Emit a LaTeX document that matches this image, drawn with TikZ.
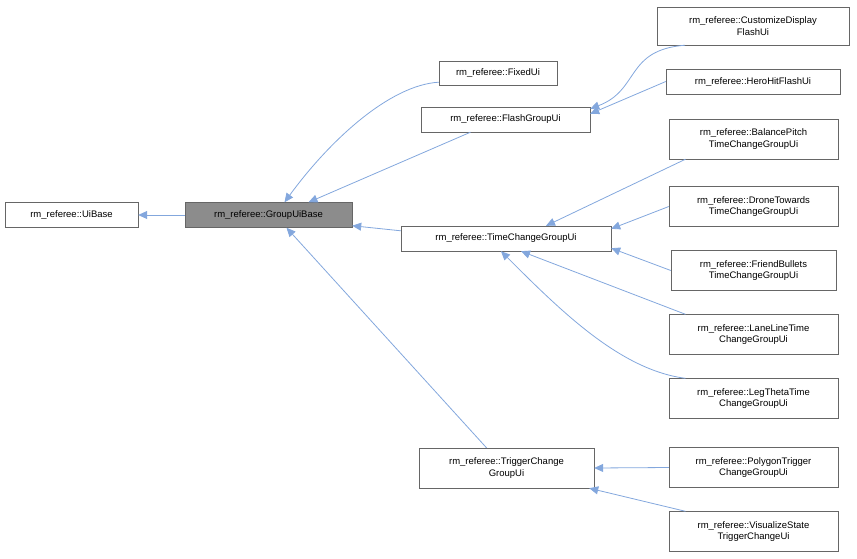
\documentclass[tikz,border=0pt]{standalone}
\usepackage{fontspec}
\setmainfont{Liberation Sans}
\usetikzlibrary{arrows.meta}
\tikzset{
  cls/.style={draw=black!60, fill=white, align=center, inner sep=2pt,
    font=\fontsize{9.5}{11.5}\selectfont, minimum height=25pt},
  edge/.style={draw=cyan!50!blue!50, line width=0.8pt,
    -{Triangle[length=9pt,width=8pt,fill=cyan!50!blue!50]}}
}
\begin{document}
\begin{tikzpicture}[x=1pt, y=-1pt]
\useasboundingbox (0,0) rectangle (857,558);
\node[cls, minimum width=133pt] (UiBase) at (71.5,215) {rm\_referee::UiBase};
\node[cls, minimum width=167pt, fill=black!45] (GroupUiBase) at (268.5,215) {rm\_referee::GroupUiBase};
\node[cls, minimum width=118pt, minimum height=24pt] (FixedUi) at (498,73) {rm\_referee::FixedUi};
\node[cls, minimum width=169pt] (FlashGroupUi) at (505.5,119.5) {rm\_referee::FlashGroupUi};
\node[cls, minimum width=210pt] (TimeChangeGroupUi) at (506,238.5) {rm\_referee::TimeChangeGroupUi};
\node[cls, minimum width=175pt, minimum height=40pt] (TriggerChangeGroupUi) at (506.5,468) {rm\_referee::TriggerChange\\GroupUi};
\node[cls, minimum width=192pt, minimum height=38pt] (CustomizeDisplayFlashUi) at (753,26) {rm\_referee::CustomizeDisplay\\FlashUi};
\node[cls, minimum width=174pt] (HeroHitFlashUi) at (753,81.5) {rm\_referee::HeroHitFlashUi};
\node[cls, minimum width=169pt, minimum height=40pt] (BalancePitch) at (753.5,139) {rm\_referee::BalancePitch\\TimeChangeGroupUi};
\node[cls, minimum width=169pt, minimum height=40pt] (DroneTowards) at (753.5,206.5) {rm\_referee::DroneTowards\\TimeChangeGroupUi};
\node[cls, minimum width=165pt, minimum height=40pt] (FriendBullets) at (753.5,270.5) {rm\_referee::FriendBullets\\TimeChangeGroupUi};
\node[cls, minimum width=169pt, minimum height=40pt] (LaneLineTime) at (753.5,334.5) {rm\_referee::LaneLineTime\\ChangeGroupUi};
\node[cls, minimum width=169pt, minimum height=40pt] (LegThetaTime) at (753.5,398.5) {rm\_referee::LegThetaTime\\ChangeGroupUi};
\node[cls, minimum width=169pt, minimum height=40pt] (PolygonTrigger) at (753.5,467.5) {rm\_referee::PolygonTrigger\\ChangeGroupUi};
\node[cls, minimum width=169pt, minimum height=40pt] (VisualizeState) at (753.5,531.5) {rm\_referee::VisualizeState\\TriggerChangeUi};

\draw[edge] (GroupUiBase) -- (UiBase);
\draw[edge] ([yshift=3pt]FixedUi.south west) .. controls (390,85) and (330,140) .. ([xshift=16pt]GroupUiBase.north);
\draw[edge] ([xshift=-35pt]FlashGroupUi.south) -- ([xshift=40pt]GroupUiBase.north);
\draw[edge] ([yshift=-5pt]TimeChangeGroupUi.north west) -- ([yshift=2pt]GroupUiBase.south east);
\draw[edge] ([xshift=-20pt]TriggerChangeGroupUi.north) -- ([xshift=18pt]GroupUiBase.south);
\draw[edge] ([xshift=-68pt]CustomizeDisplayFlashUi.south) .. controls (625,50) and (640,90) .. ([yshift=-2pt]FlashGroupUi.north east);
\draw[edge] (HeroHitFlashUi.west) -- ([yshift=-7pt]FlashGroupUi.north east);
\draw[edge] ([xshift=-68pt]BalancePitch.south) -- ([xshift=40pt]TimeChangeGroupUi.north);
\draw[edge] (DroneTowards.west) -- ([yshift=-3pt]TimeChangeGroupUi.north east);
\draw[edge] (FriendBullets.west) -- ([yshift=3pt]TimeChangeGroupUi.south east);
\draw[edge] ([xshift=-68pt]LaneLineTime.north) -- ([xshift=15pt]TimeChangeGroupUi.south);
\draw[edge] ([xshift=-68pt]LegThetaTime.north) .. controls (620,370) and (560,310) .. ([xshift=-5pt]TimeChangeGroupUi.south);
\draw[edge] (PolygonTrigger.west) -- (TriggerChangeGroupUi.east);
\draw[edge] ([xshift=-68pt]VisualizeState.north) -- ([xshift=-5pt]TriggerChangeGroupUi.south east);
\end{tikzpicture}
\end{document}
